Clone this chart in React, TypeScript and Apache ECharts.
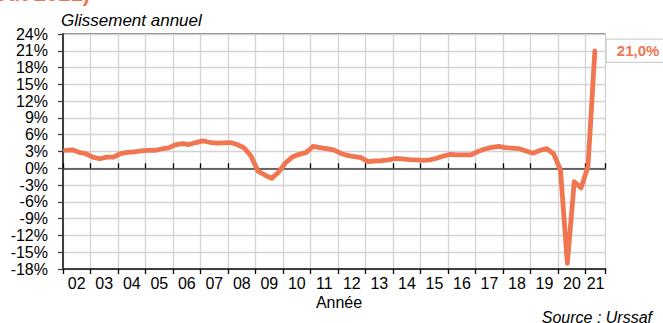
import React, { useEffect, useRef } from "react";
import * as echarts from "echarts";

// Quarterly data, first quarter of 2002 to second quarter of 2021
const startYear = 2002;
const values = [
  3.2, 3.3, 2.85, 2.6, 2.0, 1.7, 2.0, 2.0,
  2.6, 2.85, 2.95, 3.1, 3.2, 3.2, 3.45, 3.65,
  4.2, 4.4, 4.25, 4.6, 4.9, 4.65, 4.5, 4.55,
  4.6, 4.25, 3.65, 2.2, -0.5, -1.2, -1.8, -0.7,
  0.95, 2.0, 2.5, 2.8, 3.9, 3.7, 3.5, 3.3,
  2.7, 2.3, 2.1, 1.9, 1.2, 1.3, 1.35, 1.5,
  1.75, 1.7, 1.55, 1.5, 1.4, 1.5, 1.8, 2.2,
  2.5, 2.4, 2.4, 2.4, 3.0, 3.45, 3.75, 3.9,
  3.7, 3.6, 3.5, 3.1, 2.7, 3.2, 3.5, 2.6,
  -0.3, -17.0, -2.4, -3.5, 0.3, 21.0,
];
const yearLabels = [
  "02", "03", "04", "05", "06", "07", "08", "09", "10", "11",
  "12", "13", "14", "15", "16", "17", "18", "19", "20", "21",
];
const yMin = -18;
const yMax = 24;
const yStep = 3;
const xMin = 2002;
const xMax = 2021.72;

const titleText = "Glissement annuel";
const xAxisTitle = "Année";
const sourceText = "Source : Urssaf";
const topFragment = "août 2021)";

const LINE_COLOR = "#F07551";
const FONT = "'Liberation Sans', Arial, sans-serif";

export default function App() {
  const ref = useRef<HTMLDivElement>(null);

  useEffect(() => {
    if (!ref.current) return;
    const chart = echarts.init(ref.current, null, { renderer: "svg" });

    const points = values.map((v, i) => [startYear + i / 4 + 1 / 12, v]);
    const labelPos = yearLabels.map((_, i) => {
      const y = startYear + i;
      return Math.min(y + 0.5, (y + xMax) / 2);
    });
    const labelFor = (v: number) => {
      const idx = labelPos.findIndex((p) => Math.abs(p - v) < 1e-6);
      return idx >= 0 ? yearLabels[idx] : "";
    };
    const fmtPct = (v: number) => v.toFixed(1).replace(".", ",") + "%";

    const baseX = {
      type: "value",
      min: xMin,
      max: xMax,
      interval: 1,
      position: "bottom",
    };

    chart.setOption({
      animation: false,
      backgroundColor: "#ffffff",
      textStyle: { fontFamily: FONT },
      grid: {
        left: 63,
        right: 57.5,
        top: 34,
        bottom: 54,
        show: true,
        borderColor: "#000000",
        borderWidth: 1,
        containLabel: false,
      },
      xAxis: [
        {
          ...baseX,
          axisLine: { show: true, onZero: false, lineStyle: { color: "#404040", width: 2 } },
          axisTick: { show: false },
          splitLine: { show: true, lineStyle: { color: "#d3d3d3", width: 1.3 } },
          axisLabel: {
            show: true,
            customValues: labelPos,
            formatter: (v: number) => labelFor(v),
            color: "#000000",
            fontSize: 16,
            fontFamily: FONT,
            margin: 6,
          },
        },
        {
          ...baseX,
          axisLine: { show: true, onZero: true, lineStyle: { color: "#404040", width: 1.5 } },
          axisTick: { show: true, inside: true, length: 5, lineStyle: { color: "#000000", width: 1.3 } },
          splitLine: { show: false },
          axisLabel: { show: false },
        },
        {
          ...baseX,
          axisLine: { show: true, onZero: true, lineStyle: { color: "#404040", width: 1.5 } },
          axisTick: { show: true, inside: false, length: 5, lineStyle: { color: "#000000", width: 1.3 } },
          splitLine: { show: false },
          axisLabel: { show: false },
        },
      ],
      yAxis: {
        type: "value",
        min: yMin,
        max: yMax,
        interval: yStep,
        axisLine: { show: true, onZero: false, lineStyle: { color: "#404040", width: 2 } },
        axisTick: { show: true, inside: false, length: 5, lineStyle: { color: "#404040", width: 1.3 } },
        splitLine: { show: true, lineStyle: { color: "#d3d3d3", width: 1.3 } },
        axisLabel: {
          formatter: (v: number) => `${v}%`,
          color: "#000000",
          fontSize: 16,
          fontFamily: FONT,
          margin: 15,
        },
      },
      series: [
        {
          type: "line",
          xAxisIndex: 0,
          data: points,
          showSymbol: false,
          clip: false,
          lineStyle: { color: LINE_COLOR, width: 4.8, cap: "round", join: "round" },
          itemStyle: { color: LINE_COLOR },
          endLabel: {
            show: true,
            formatter: (p: any) => fmtPct(p.value[1]),
            color: LINE_COLOR,
            fontSize: 15,
            fontWeight: "bold",
            fontFamily: FONT,
            distance: 12,
            borderColor: "#d0d0d0",
            borderWidth: 1.2,
            backgroundColor: "#ffffff",
            padding: [7, 10, 0, 10],
          },
        },
      ],
      graphic: [
        {
          type: "text",
          x: 90,
          y: -18,
          style: {
            text: topFragment,
            fill: LINE_COLOR,
            font: `bold 22px ${FONT}`,
            textAlign: "right",
            textVerticalAlign: "top",
          },
        },
        {
          type: "text",
          x: 61,
          y: 20,
          style: {
            text: titleText,
            fill: "#000000",
            font: `italic 17px ${FONT}`,
            textAlign: "left",
            textVerticalAlign: "middle",
          },
        },
        {
          type: "text",
          x: 339,
          y: 302,
          style: {
            text: xAxisTitle,
            fill: "#000000",
            font: `16px ${FONT}`,
            textAlign: "center",
            textVerticalAlign: "middle",
          },
        },
        {
          type: "text",
          x: 652,
          y: 317,
          style: {
            text: sourceText,
            fill: "#000000",
            font: `italic 16px ${FONT}`,
            textAlign: "right",
            textVerticalAlign: "middle",
          },
        },
      ],
    });

    return () => chart.dispose();
  }, []);

  return (
    <div
      ref={ref}
      style={{ position: "fixed", left: 0, top: 0, width: 663, height: 323, background: "#fff" }}
    />
  );
}
